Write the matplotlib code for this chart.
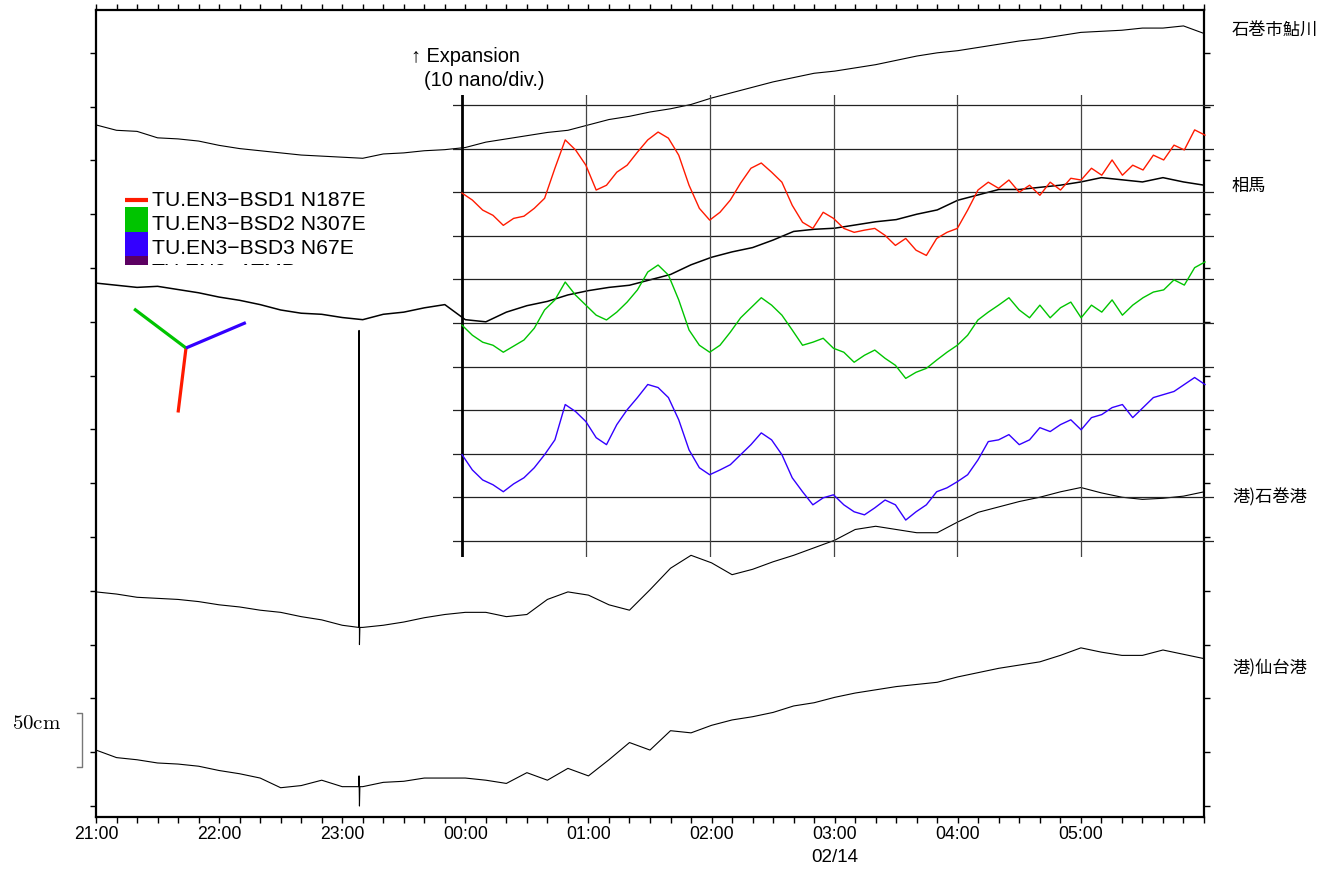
import numpy as np
import matplotlib
matplotlib.use("Agg")
import matplotlib.pyplot as plt
from matplotlib import transforms
from matplotlib.ticker import MultipleLocator
from matplotlib.patches import Rectangle

plt.rcParams["font.family"] = ["Liberation Sans", "Noto Sans CJK JP", "DejaVu Sans"]
plt.rcParams["mathtext.fontset"] = "cm"

# ---------------- tide gauge records (cm), 10-min samples from 21:00 ----------------
tide_step_min = 10
ayukawa_cm = [33, 28, 27, 21, 20, 18, 14, 11, 9, 7, 5, 4, 3, 2, 6, 7, 9, 10, 12, 17,
              20, 23, 26, 28, 33, 38, 41, 45, 48, 52, 58, 63, 68, 73, 77, 81, 83, 86, 89, 93,
              97, 100, 102, 105, 108, 111, 113, 116, 119, 120, 121, 123, 123, 125, 118]
soma_cm = [36, 34, 32, 33, 30, 27, 23, 20, 16, 11, 8, 7, 4, 2, 7, 9, 13, 16, 2, 0,
           9, 15, 19, 25, 29, 32, 34, 39, 44, 53, 60, 65, 69, 76, 84, 86, 87, 90, 93, 95,
           100, 104, 113, 118, 123, 123, 125, 127, 130, 134, 132, 130, 134, 130, 127]
ishinomaki_cm = [-1, -3, -6, -7, -8, -10, -13, -15, -18, -20, -24, -27, -32, -34, -32, -29, -25, -22, -20, -20,
                 -24, -22, -8, -1, -4, -13, -18, 1, 21, 33, 26, 15, 20, 27, 33, 40, 47, 57, 60, 57,
                 54, 54, 64, 73, 78, 83, 87, 92, 96, 91, 87, 85, 86, 88, 92]
sendai_cm = [2, -5, -7, -10, -11, -13, -17, -20, -24, -33, -31, -26, -32, -32, -28, -27, -24, -24, -24, -26,
             -29, -19, -26, -15, -22, -7, 9, 2, 20, 18, 25, 30, 33, 37, 43, 46, 51, 55, 58, 61,
             63, 65, 70, 74, 78, 81, 84, 90, 97, 93, 90, 90, 95, 91, 87]

# short seismic excursion recorded at about 23:08
spike_min = [128.0, 128.2, 128.4, 128.6]
ishinomaki_spike_cm = [-34, 242, -50, -34]
sendai_spike_cm = [-32, -22, -50, -32]

tide_offsets_cm = [600, 450, 200, 50]
tide_widths = [0.8, 1.1, 0.8, 0.8]
tide_names = ["石巻市鮎川", "相馬", "港)石巻港", "港)仙台港"]

# ---------------- borehole strain (nano strain), 5-min samples from 00:00 ----------------
strain_step_min = 5
bsd1 = [-0.2, -1.8, -4.1, -5.3, -7.6, -6.0, -5.5, -3.7, -1.4, 5.5,
        12.0, 9.7, 6.2, 0.5, 1.6, 4.6, 6.2, 9.2, 12.0, 13.8,
        12.4, 8.5, 1.6, -3.7, -6.4, -4.6, -1.8, 2.1, 5.5, 6.7,
        4.6, 2.3, -3.0, -6.9, -8.3, -4.6, -6.0, -8.3, -9.2, -8.7,
        -8.3, -9.9, -12.2, -10.6, -13.3, -14.5, -10.6, -9.2, -8.3, -4.1,
        0.5, 2.3, 0.9, 2.8, 0.0, 1.6, -0.7, 2.3, 0.5, 3.2,
        2.8, 5.5, 3.9, 7.4, 3.9, 6.2, 5.1, 8.5, 7.4, 10.8,
        9.7, 14.3, 13.1]
bsd2 = [-0.5, -2.8, -4.4, -5.1, -6.7, -5.3, -3.9, -1.2, 3.0, 5.3,
        9.4, 6.4, 4.1, 1.8, 0.7, 2.5, 4.8, 7.6, 11.7, 13.3,
        11.0, 5.3, -1.6, -5.1, -6.7, -5.1, -2.1, 1.2, 3.5, 5.8,
        4.1, 1.8, -1.6, -5.1, -4.4, -3.5, -5.8, -6.7, -9.0, -7.4,
        -6.2, -8.1, -9.7, -12.7, -11.3, -10.4, -8.5, -6.7, -5.1, -2.8,
        0.7, 2.5, 4.1, 5.8, 3.0, 1.2, 4.1, 1.2, 3.5, 4.8,
        1.2, 4.1, 2.5, 5.3, 1.8, 4.1, 5.8, 7.1, 7.6, 9.9,
        8.7, 12.7, 14.0]
bsd3 = [-0.2, -3.7, -6.0, -7.1, -8.7, -6.9, -5.5, -3.2, -0.2, 3.2,
        11.3, 9.7, 7.4, 3.7, 2.1, 6.7, 10.1, 12.9, 15.9, 15.2,
        12.9, 7.8, 0.9, -3.2, -4.8, -3.7, -2.5, -0.2, 2.1, 4.8,
        3.2, -0.2, -5.5, -8.7, -11.7, -10.1, -9.4, -11.7, -13.3, -14.0,
        -12.4, -10.6, -11.7, -15.2, -13.3, -11.7, -8.7, -7.8, -6.4, -4.8,
        -1.4, 2.8, 3.2, 4.4, 2.1, 3.2, 6.0, 5.1, 6.7, 7.8,
        5.5, 8.3, 9.0, 10.6, 11.3, 8.3, 10.6, 12.9, 13.6, 14.3,
        15.9, 17.5, 15.9]
strain_offsets = [80, 50, 20]
strain_colors = ["#ff1a00", "#00c400", "#3300ff", "#5c0062"]
strain_labels = ["TU.EN3\u2212BSD1 N187E", "TU.EN3\u2212BSD2 N307E",
                 "TU.EN3\u2212BSD3 N67E", "TU.EN3\u2212ATMP"]
sensor_azimuths = [187, 307, 67]

hour_labels = ["21:00", "22:00", "23:00", "00:00", "01:00", "02:00", "03:00", "04:00", "05:00", ""]
date_label = "02/14"

# ---------------- figure ----------------
W, H = 1320, 869
fig = plt.figure(figsize=(W / 100, H / 100), dpi=100)


def px_box(x0, y0, x1, y1):
    return [x0 / W, 1 - y1 / H, (x1 - x0) / W, (y1 - y0) / H]


ax = fig.add_axes(px_box(96, 10, 1204, 817))
t_tide = np.arange(len(ayukawa_cm)) * tide_step_min


def with_spike(t, v, st, sv):
    tt = np.concatenate([t, st])
    vv = np.concatenate([v, sv])
    order = np.argsort(tt, kind="stable")
    return tt[order], vv[order]


series = [
    (t_tide, np.array(ayukawa_cm)),
    (t_tide, np.array(soma_cm)),
    with_spike(t_tide, np.array(ishinomaki_cm), np.array(spike_min), np.array(ishinomaki_spike_cm)),
    with_spike(t_tide, np.array(sendai_cm), np.array(spike_min), np.array(sendai_spike_cm)),
]
for (tt, vv), off, lw in zip(series, tide_offsets_cm, tide_widths):
    ax.plot(tt / 60.0, vv + off, color="black", lw=lw)

ax.set_xlim(0, 9)
ax.set_ylim(-10.2, 739.8)
ax.set_xticks(np.arange(len(hour_labels)))
ax.set_xticklabels(hour_labels, fontsize=12.7)
ax.xaxis.set_minor_locator(MultipleLocator(1 / 6))
ax.set_yticks(np.arange(0, 701, 50))
ax.set_yticklabels([])
ax.tick_params(axis="both", which="both", direction="out", width=1.0, length=4.2,
               top=True, right=True, pad=2)
for s in ax.spines.values():
    s.set_linewidth(1.6)

# date under the time axis
ax.text(6, 1 - 857 / H, date_label, transform=transforms.blended_transform_factory(ax.transData, fig.transFigure),
        ha="center", va="center", fontsize=13.5)

# station names at the right margin
for name, yp in zip(tide_names, [30, 186, 497, 668]):
    fig.text(1232 / W, 1 - yp / H, name, ha="left", va="center", fontsize=12.4,
             family=["Noto Sans CJK JP", "DejaVu Sans"])

# 50 cm scale bar
bt = transforms.blended_transform_factory(fig.transFigure, ax.transData)
ax.plot([77 / W, 82 / W, 82 / W, 77 / W], [36, 36, 86, 86], transform=bt, color="#777777",
        lw=1.0, clip_on=False)
ax.text(12 / W, 77, r"$\mathrm{50cm}$", transform=bt, ha="left", va="center", fontsize=15)

# ---------------- strain panel ----------------
ax_in = fig.add_axes(px_box(453, 95, 1214, 557))
ax_in.set_xlim(-0.073, 6.073)
ax_in.set_ylim(-3.67, 102.3)
ax_in.axis("off")
for lvl in range(0, 101, 10):
    ax_in.axhline(lvl, color="#222222", lw=0.9)
ax_in.axvline(0, color="black", lw=2.0)
for hr in range(1, 6):
    ax_in.axvline(hr, color="#444444", lw=0.9)

t_strain = np.arange(len(bsd1)) * strain_step_min / 60.0
for vals, off, col in zip([bsd1, bsd2, bsd3], strain_offsets, strain_colors):
    ax_in.plot(t_strain, np.array(vals) + off, color=col, lw=1.0)

fig.text(411 / W, 1 - 57 / H, "\u2191 Expansion", ha="left", va="center", fontsize=14.4)
fig.text(424 / W, 1 - 80 / H, "(10 nano/div.)", ha="left", va="center", fontsize=14.4)

# ---------------- legend (clipped at its lower edge) ----------------
leg = fig.add_axes(px_box(120, 185, 390, 265))
leg.set_xlim(120, 390)
leg.set_ylim(265, 185)
leg.axis("off")
text_y = [201, 224, 248, 273]
leg.plot([125, 148], [200, 200], color=strain_colors[0], lw=3.0, solid_capstyle="butt")
for i in range(1, 4):
    leg.add_patch(Rectangle((125, 207 + 24.5 * (i - 1)), 23, 24.5, color=strain_colors[i], lw=0))
for lab, yy in zip(strain_labels, text_y):
    leg.text(152, yy, lab, ha="left", va="center", fontsize=15.2, clip_on=True)

# ---------------- sensor orientation ----------------
ori = fig.add_axes(px_box(106, 268, 266, 428))
ori.set_xlim(-80, 80)
ori.set_ylim(-80, 80)
ori.axis("off")
for az, col in zip(sensor_azimuths, strain_colors):
    a = np.deg2rad(az)
    ori.plot([0, 65 * np.sin(a)], [0, 65 * np.cos(a)], color=col, lw=2.3, solid_capstyle="butt")

fig.savefig("out.png", dpi=100)
